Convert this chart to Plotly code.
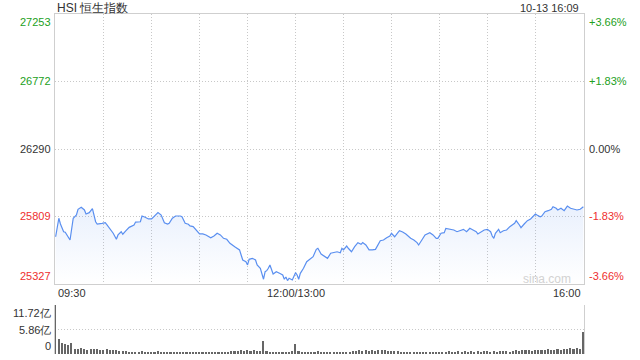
import plotly.graph_objects as go

# ---- data ----
# trading minutes since 09:30 (12:00 and 13:00 share minute 150)
minutes = [
    0, 2, 3, 5, 6, 9, 11, 13, 14, 16,
    18, 19, 21, 23, 25, 26, 29, 31, 32, 35,
    36, 38, 39, 41, 42, 44, 46, 49, 50, 53,
    54, 56, 58, 60, 62, 64, 66, 68, 70, 71,
    73, 75, 78, 79, 81, 83, 84, 86, 90, 92,
    94, 97, 99, 101, 103, 105, 107, 109, 112, 115,
    116, 117, 119, 120, 121, 123, 125, 126, 128, 129,
    130, 131, 132, 133, 134, 136, 138, 140, 142, 143,
    144, 145, 146, 148, 150, 151, 152, 153, 155, 157,
    160, 161, 163, 164, 166, 168, 170, 172, 174, 176,
    178, 179, 180, 182, 183, 185, 187, 189, 191, 192,
    194, 196, 198, 200, 203, 205, 207, 209, 210, 212,
    214, 215, 217, 219, 222, 224, 226, 227, 229, 231,
    234, 236, 238, 239, 241, 243, 244, 247, 249, 251,
    253, 255, 257, 259, 261, 263, 264, 266, 268, 270,
    272, 273, 274, 275, 277, 278, 280, 282, 284, 287,
    288, 290, 291, 293, 295, 297, 298, 300, 301, 303,
    304, 306, 308, 310, 311, 313, 314, 316, 318, 319,
    320, 322, 324, 326, 328, 330,
]
prices = [
    25664, 25796, 25755, 25700, 25696, 25641, 25796, 25819, 25860, 25874,
    25855, 25826, 25836, 25864, 25771, 25755, 25760, 25764, 25750, 25707,
    25689, 25646, 25677, 25700, 25682, 25707, 25731, 25748, 25769, 25771,
    25812, 25803, 25791, 25791, 25812, 25836, 25819, 25764, 25755, 25760,
    25796, 25812, 25812, 25807, 25760, 25753, 25741, 25736, 25684, 25684,
    25677, 25657, 25669, 25689, 25677, 25653, 25646, 25617, 25593, 25570,
    25534, 25498, 25486, 25463, 25503, 25510, 25498, 25463, 25439, 25391,
    25361, 25415, 25422, 25439, 25463, 25398, 25415, 25403, 25391, 25361,
    25377, 25351, 25368, 25356, 25408, 25391, 25361, 25403, 25439, 25486,
    25510, 25522, 25574, 25582, 25541, 25527, 25510, 25546, 25550, 25557,
    25550, 25582, 25570, 25598, 25582, 25557, 25593, 25622, 25610, 25622,
    25605, 25570, 25570, 25574, 25636, 25641, 25657, 25669, 25689, 25664,
    25693, 25707, 25698, 25684, 25653, 25641, 25622, 25605, 25641, 25677,
    25693, 25677, 25653, 25653, 25689, 25693, 25724, 25717, 25712, 25700,
    25707, 25717, 25700, 25724, 25712, 25700, 25684, 25700, 25712, 25717,
    25700, 25669, 25653, 25689, 25717, 25693, 25707, 25712, 25736, 25760,
    25779, 25748, 25729, 25755, 25779, 25791, 25803, 25826, 25819, 25807,
    25812, 25843, 25850, 25860, 25878, 25867, 25855, 25867, 25850, 25867,
    25883, 25867, 25860, 25855, 25860, 25878,
]

# turnover (亿) every 2 trading minutes, 09:30 .. 16:00
volumes = [
    11.72, 3.6, 2.7, 2.3, 2.2, 2.6, 1.3, 1.2, 1.5, 1.2,
    1.0, 1.3, 1.1, 1.3, 1.0, 1.0, 1.2, 0.9, 0.9, 0.95,
    0.6, 0.6, 0.7, 0.55, 0.4, 0.5, 0.4, 0.6, 0.5, 0.5,
    0.55, 0.5, 0.6, 0.5, 0.35, 0.45, 0.35, 0.5, 0.35, 0.4,
    0.5, 0.45, 0.4, 0.5, 0.35, 0.45, 0.4, 0.55, 0.4, 0.35,
    0.45, 0.5, 0.4, 0.55, 0.45, 0.6, 0.8, 0.7, 0.9, 0.75,
    0.85, 0.6, 0.95, 0.7, 0.8, 3.0, 0.6, 0.5, 0.45, 0.5,
    0.4, 0.55, 0.45, 0.5, 0.6, 2.3, 0.6, 0.55, 0.4, 0.5,
    0.55, 0.45, 0.6, 0.5, 0.4, 0.5, 0.45, 0.4, 0.5, 0.35,
    0.45, 0.5, 0.4, 0.7, 0.6, 0.85, 0.7, 0.9, 0.75, 0.95,
    0.8, 1.0, 0.85, 0.9, 0.7, 0.8, 0.65, 0.6, 0.5, 0.45,
    0.55, 0.4, 0.5, 0.45, 0.55, 0.4, 0.5, 0.45, 0.4, 0.55,
    0.35, 0.45, 0.5, 0.6, 0.45, 0.55, 0.7, 0.5, 0.6, 0.45,
    0.65, 0.55, 0.7, 0.5, 0.6, 0.75, 0.55, 0.65, 0.5, 0.7,
    0.6, 0.75, 0.55, 0.7, 0.9, 0.8, 1.0, 0.85, 0.95, 0.8,
    1.05, 0.9, 1.0, 0.85, 1.1, 0.9, 1.0, 1.2, 1.05, 1.3,
    1.1, 1.4, 1.2, 1.5, 1.3, 5.3,
]
vol_minutes = [2 * i for i in range(len(volumes))]

prev_close = 26290
price_ticks = [25327, 25809, 26290, 26772, 27253]
pct_labels = ["-3.66%", "-1.83%", "0.00%", "+1.83%", "+3.66%"]
vol_ticks = [0, 5.86, 11.72]
vol_labels = ["0", "5.86亿", "11.72亿"]
time_ticks = list(range(0, 331, 30))
time_label_pos = [0, 150, 330]
time_labels = ["09:30", "12:00/13:00", "16:00"]
title_text = "HSI 恒生指数"
stamp_text = "10-13 16:09"

# ---- style ----
FONT = "Liberation Sans, Arial, sans-serif"
LINE = "#5a8ff0"
GRID = "#c8c8c8"
DASH = "1px,2px"
BORDER = "#cfcfcf"
GREEN = "#22a022"
RED = "#ee2f2f"
DARK = "#333333"

fig = go.Figure()
fig.add_trace(go.Scatter(
    x=minutes, y=[price_ticks[0]] * len(minutes), mode="lines",
    line=dict(width=0, color="rgba(0,0,0,0)"), hoverinfo="skip", showlegend=False,
))
fig.add_trace(go.Scatter(
    x=minutes, y=prices, mode="lines",
    line=dict(color=LINE, width=1.2),
    fill="tonexty",
    fillgradient=dict(
        type="vertical",
        colorscale=[[0, "rgba(90,143,240,0.0)"], [1, "rgba(90,143,240,0.13)"]],
        start=price_ticks[0], stop=max(prices),
    ),
    showlegend=False,
))
fig.add_trace(go.Bar(
    x=vol_minutes, y=volumes, xaxis="x2", yaxis="y2",
    marker=dict(color="#666666", line=dict(width=0)), width=1.0,
    showlegend=False,
))

xr = [-0.4, 330.4]
fig.update_layout(
    width=640, height=360,
    margin=dict(l=55, r=56, t=14, b=6),
    paper_bgcolor="white", plot_bgcolor="white",
    font=dict(family=FONT, size=11, color=DARK),
    showlegend=False,
    xaxis=dict(domain=[0, 1], range=xr, anchor="y", tickvals=time_ticks,
               showticklabels=False, ticks="", showgrid=True, gridcolor=GRID,
               griddash=DASH, gridwidth=1, showline=True, linecolor=BORDER,
               mirror=True, zeroline=False),
    yaxis=dict(domain=[0.2059, 1], range=[price_ticks[0], price_ticks[-1]],
               tickvals=price_ticks, showticklabels=False, ticks="",
               showgrid=True, gridcolor=GRID, griddash=DASH,
               showline=True, linecolor=BORDER, mirror=True, zeroline=False),
    xaxis2=dict(domain=[0, 1], range=xr, anchor="y2", showgrid=False,
                showticklabels=False, ticks="", showline=False, zeroline=False),
    yaxis2=dict(domain=[0, 0.1441], range=[0, vol_ticks[-1]], anchor="x2",
                tickvals=vol_ticks[1:], showticklabels=False, ticks="",
                showgrid=True, gridcolor=GRID, griddash=DASH,
                showline=True, linecolor=BORDER, mirror=True, zeroline=False),
    bargap=0,
)

ann = []
ann.append(dict(text=title_text, xref="paper", yref="paper", x=0, y=1.0176,
                xanchor="left", yanchor="middle", showarrow=False,
                font=dict(size=12, color=DARK)))
ann.append(dict(text=stamp_text, xref="paper", yref="paper", x=1, y=1.0176,
                xanchor="right", yanchor="middle", xshift=-3, showarrow=False,
                font=dict(size=11, color=DARK)))

for i, (v, p) in enumerate(zip(price_ticks, pct_labels)):
    if v > prev_close:
        col = GREEN
    elif v < prev_close:
        col = RED
    else:
        col = DARK
    ya = "top" if i == len(price_ticks) - 1 else ("bottom" if i == 0 else "middle")
    ann.append(dict(text=str(v), xref="paper", yref="y", x=0, y=v,
                    xanchor="right", yanchor=ya, xshift=-2, showarrow=False,
                    font=dict(size=11, color=col)))
    ann.append(dict(text=p, xref="paper", yref="y", x=1, y=v,
                    xanchor="left", yanchor=ya, xshift=3, showarrow=False,
                    font=dict(size=11, color=col)))

anchors = ["left", "center", "right"]
for pos, lab, xa in zip(time_label_pos, time_labels, anchors):
    ann.append(dict(text=lab, xref="x", yref="paper", x=pos, y=0.179,
                    xanchor=xa, yanchor="middle", showarrow=False,
                    font=dict(size=11, color=DARK)))

for i, (v, lab) in enumerate(zip(vol_ticks, vol_labels)):
    ya = "bottom" if i == 0 else ("top" if i == len(vol_ticks) - 1 else "middle")
    ann.append(dict(text=lab, xref="paper", yref="y2", x=0, y=v,
                    xanchor="right", yanchor=ya, xshift=-2, showarrow=False,
                    font=dict(size=11, color=DARK)))

ann.append(dict(text="sina.com", xref="x", yref="y", x=323.5, y=25365,
                xanchor="right", yanchor="middle", showarrow=False,
                font=dict(size=12, color="#d2d2d2")))

fig.update_layout(annotations=ann)
fig.write_html("out.html")
